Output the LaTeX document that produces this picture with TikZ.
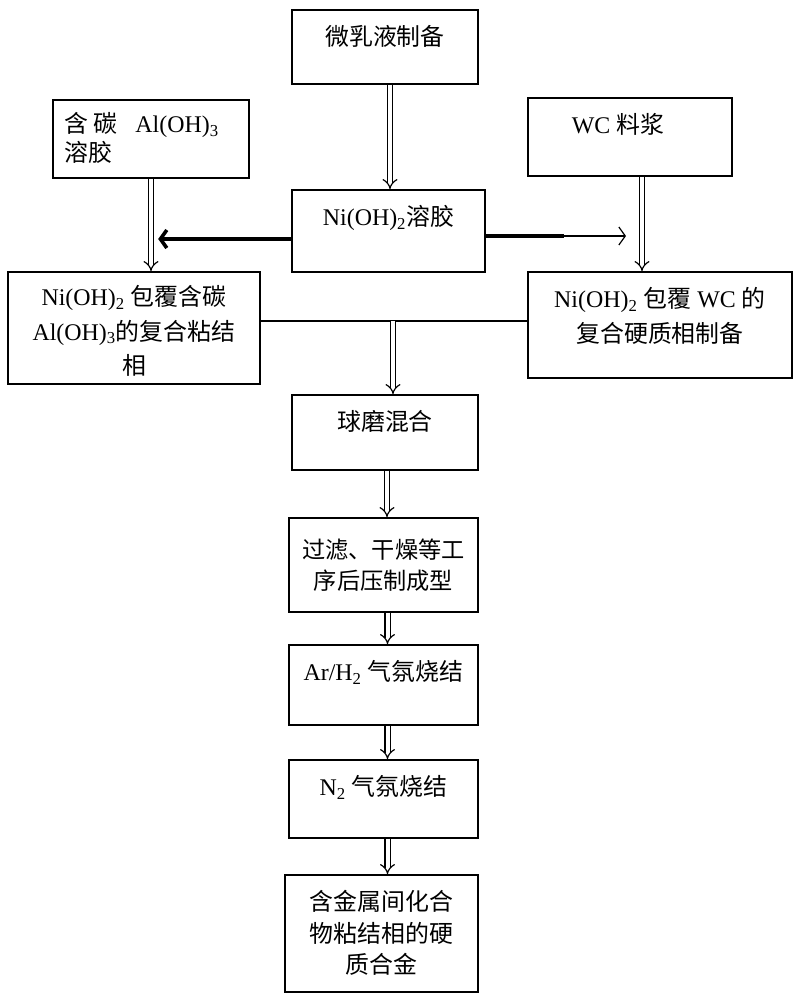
\documentclass[tikz,border=0pt]{standalone}
\usepackage{fontspec}
\setmainfont{Liberation Serif}
\newfontfamily\cjk{Noto Sans CJK SC}
\usetikzlibrary{arrows.meta}
\newcommand{\zh}[1]{{\cjk #1}}
\tikzset{
  box/.style={draw, line width=0.45mm, inner sep=0pt},
  txt/.style={font=\fontsize{17}{22.5}\selectfont, align=center, inner sep=0pt},
  lbl/.style={txt, anchor=north, yshift=-4mm},
  dbl/.style={double, double distance=1mm, line width=0.3mm, -{Implies}},
  thk/.style={line width=0.9mm, -{Straight Barb[length=1.6mm,width=4.5mm]}},
}
\begin{document}
\begin{tikzpicture}[x=0.25mm, y=-0.25mm]
\useasboundingbox (0,0) rectangle (795,1000);
% boxes
\node[box, minimum width=46.5mm, minimum height=18.5mm, label={[lbl]north:\zh{微乳液制备}}] (emul) at (385,47) {};
\node[box, minimum width=49mm, minimum height=19.5mm] (alsol) at (151,139) {};
\node[txt, align=left, anchor=north west, font=\fontsize{17}{21}\selectfont] (altxt) at ([xshift=3mm, yshift=-3.2mm]alsol.north west) {\zh{含\ 碳}\ \ \ Al(OH)\textsubscript{3}\\\zh{溶胶}};
\node[box, minimum width=51mm, minimum height=19.5mm, label={[lbl, xshift=-3mm]north:WC \zh{料浆}}] (wc) at (630,137) {};
\node[box, minimum width=48.25mm, minimum height=20.5mm, label={[lbl]north:Ni(OH)\textsubscript{2}\zh{溶胶}}] (nisol) at (388.5,231) {};
\node[box, minimum width=63mm, minimum height=28mm, label={[lbl, yshift=0.5mm, font=\fontsize{17}{24.5}\selectfont]north:Ni(OH)\textsubscript{2} \zh{包覆含碳}\\Al(OH)\textsubscript{3}\zh{的复合粘结}\\\zh{相}}] (bind) at (134,328) {};
\node[box, minimum width=66mm, minimum height=26.5mm, label={[lbl, font=\fontsize{17}{24.5}\selectfont]north:Ni(OH)\textsubscript{2} \zh{包覆} WC \zh{的}\\\zh{复合硬质相制备}}] (hard) at (660,325) {};
\node[box, minimum width=46.5mm, minimum height=18.75mm, label={[lbl]north:\zh{球磨混合}}] (mill) at (385,432.5) {};
\node[box, minimum width=47.25mm, minimum height=23.5mm, label={[lbl, yshift=-1.5mm, font=\fontsize{16.5}{21.5}\selectfont]north:\zh{过滤、干燥等工}\\\zh{序后压制成型}}] (press) at (383.5,565) {};
\node[box, minimum width=47.25mm, minimum height=20mm, label={[lbl]north:Ar/H\textsubscript{2} \zh{气氛烧结}}] (arh) at (383.5,685) {};
\node[box, minimum width=47.25mm, minimum height=19.5mm, label={[lbl]north:N\textsubscript{2} \zh{气氛烧结}}] (ntwo) at (383.5,799) {};
\node[box, minimum width=48.25mm, minimum height=29.25mm, label={[lbl]north:\zh{含金属间化合}\\\zh{物粘结相的硬}\\\zh{质合金}}] (alloy) at (381.5,933.5) {};
% connectors
\coordinate (jn) at (393,321);
\coordinate (mid) at (564,236);
\draw[dbl] ([xshift=1.25mm]emul.south) -- ([xshift=1.25mm]emul.south |- nisol.north);
\draw[dbl] (alsol.south) -- (alsol.south |- bind.north);
\draw[dbl] ([xshift=3mm]wc.south) -- ([xshift=3mm]wc.south |- hard.north);
\draw[thk] ([yshift=-2mm]nisol.west) -- ([yshift=-2mm, xshift=1.8mm]nisol.west -| alsol.south);
\draw[line width=0.3mm, -{Straight Barb[length=1.6mm,width=4.5mm]}] (nisol.east |- mid) -- ([xshift=-1mm]mid -| wc.south);
\draw[line width=0.9mm] (nisol.east |- mid) -- (mid);
\draw[line width=0.35mm] (bind.east |- jn) -- (hard.west |- jn);
\draw[dbl] (jn) -- (jn |- mill.north);
\draw[dbl] ([xshift=0.5mm]mill.south) -- ([xshift=0.5mm]mill.south |- press.north);
\draw[dbl] ([xshift=1mm]press.south) -- ([xshift=1mm]press.south |- arh.north);
\draw[dbl] ([xshift=1mm]arh.south) -- ([xshift=1mm]arh.south |- ntwo.north);
\draw[dbl] ([xshift=1mm]ntwo.south) -- ([xshift=1mm]ntwo.south |- alloy.north);
\end{tikzpicture}
\end{document}
